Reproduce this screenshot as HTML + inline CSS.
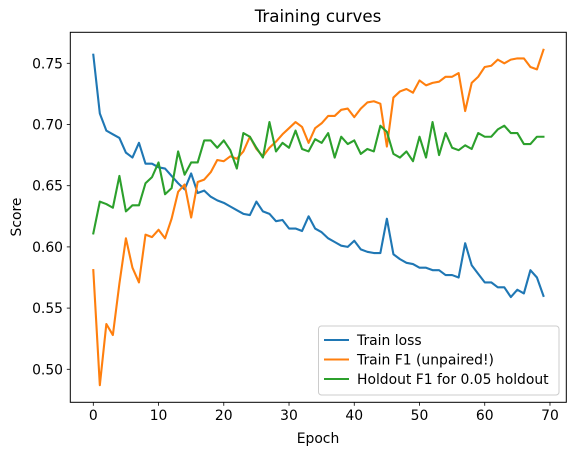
<!DOCTYPE html>
<html><head><meta charset="utf-8"><style>
html,body{margin:0;padding:0;background:#fff;width:579px;height:455px;overflow:hidden}
text{font-family:"DejaVu Sans","Liberation Sans",sans-serif;fill:#000}
</style></head><body>
<svg id="chart" width="579" height="455" xmlns="http://www.w3.org/2000/svg">
<text x="318" y="22" font-size="16.7" text-anchor="middle">Training curves</text>
<text x="318" y="443" font-size="13.9" text-anchor="middle">Epoch</text>
<text x="0" y="0" font-size="13.9" text-anchor="middle" transform="translate(21,217) rotate(-90)">Score</text>
<g id="marks"></g>
<rect x="70.3" y="32.3" width="496" height="370" fill="none" stroke="#000" stroke-width="1"/>
<g id="ticks"></g>
<g id="legend"></g>
</svg>
<script>
const epochs = Array.from({length:70},(_, i)=>i);
const trainLoss = [0.757,0.709,0.695,0.692,0.689,0.677,0.673,0.685,0.668,0.668,0.665,0.664,0.658,0.652,0.647,0.660,0.644,0.646,0.641,0.638,0.636,0.633,0.630,0.627,0.626,0.637,0.629,0.627,0.621,0.622,0.615,0.615,0.613,0.625,0.615,0.612,0.607,0.604,0.601,0.600,0.605,0.598,0.596,0.595,0.595,0.623,0.594,0.590,0.587,0.586,0.583,0.583,0.581,0.581,0.577,0.577,0.575,0.603,0.585,0.578,0.571,0.571,0.567,0.567,0.559,0.565,0.562,0.581,0.575,0.560];
const trainF1 = [0.581,0.487,0.537,0.528,0.570,0.607,0.583,0.571,0.610,0.608,0.614,0.607,0.623,0.645,0.651,0.624,0.653,0.655,0.661,0.671,0.670,0.674,0.672,0.678,0.690,0.680,0.674,0.681,0.686,0.692,0.697,0.702,0.698,0.685,0.697,0.701,0.707,0.707,0.712,0.713,0.706,0.713,0.718,0.719,0.717,0.682,0.722,0.727,0.729,0.726,0.736,0.732,0.734,0.735,0.739,0.739,0.742,0.711,0.734,0.739,0.747,0.748,0.753,0.750,0.753,0.754,0.754,0.747,0.745,0.761];
const holdoutF1 = [0.611,0.637,0.635,0.632,0.658,0.629,0.634,0.634,0.652,0.657,0.669,0.643,0.648,0.678,0.659,0.669,0.669,0.687,0.687,0.681,0.687,0.679,0.664,0.693,0.690,0.681,0.673,0.702,0.678,0.685,0.681,0.695,0.680,0.678,0.688,0.685,0.693,0.673,0.690,0.684,0.687,0.676,0.680,0.678,0.699,0.694,0.676,0.673,0.678,0.670,0.690,0.673,0.702,0.675,0.693,0.681,0.679,0.683,0.680,0.693,0.690,0.690,0.696,0.699,0.693,0.693,0.684,0.684,0.690,0.690];
const xTicks = [0,10,20,30,40,50,60,70];
const yTicks = [0.50,0.55,0.60,0.65,0.70,0.75];
const seriesNames = ["Train loss","Train F1 (unpaired!)","Holdout F1 for 0.05 holdout"];

const NS="http://www.w3.org/2000/svg";
function xs(v){return 93.3+v*6.524;}
function ys(v){return 63.3+(0.75-v)*1224;}
function mk(tag,attrs,parent){const e=document.createElementNS(NS,tag);for(const k in attrs)e.setAttribute(k,attrs[k]);parent.appendChild(e);return e;}
const colors=["#1f77b4","#ff7f0e","#2ca02c"];
const series=[trainLoss,trainF1,holdoutF1];
const marks=document.getElementById('marks');
const lineNames=["train-loss-line","train-f1-line","holdout-f1-line"];
series.forEach((s,i)=>{
  const p=mk('polyline',{points:s.map((v,j)=>xs(epochs[j])+','+ys(v)).join(' '),fill:'none',stroke:colors[i],'stroke-width':2.1,'stroke-linejoin':'round','stroke-linecap':'square'},marks);
  
  
});
const ticks=document.getElementById('ticks');
xTicks.forEach(t=>{
  const l=mk('line',{x1:xs(t),x2:xs(t),y1:402.3,y2:405.8,stroke:'#000','stroke-width':0.8},ticks);
  
  
  const tx=mk('text',{x:xs(t),y:420,'font-size':13.9,'text-anchor':'middle'},ticks);
  tx.textContent=t;
  
  
});
yTicks.forEach(t=>{
  const l=mk('line',{x1:66.8,x2:70.3,y1:ys(t),y2:ys(t),stroke:'#000','stroke-width':0.8},ticks);
  
  
  const tx=mk('text',{x:63,y:ys(t)+5,'font-size':13.9,'text-anchor':'end'},ticks);
  tx.textContent=t.toFixed(2);
  
  
});
const lg=document.getElementById('legend');
const box=mk('rect',{x:318.5,y:326,width:240.5,height:69,rx:3,fill:'#fff','fill-opacity':0.8,stroke:'#ccc','stroke-width':1},lg);


seriesNames.forEach((n,i)=>{
  const y=340+i*19.5;
  const l=mk('line',{x1:324,x2:349,y1:y,y2:y,stroke:colors[i],'stroke-width':2.1},lg);
  
  
  const t=mk('text',{x:357,y:y+5,'font-size':13.9},lg);
  t.textContent=n;
  
  
});
</script>
</body></html>
